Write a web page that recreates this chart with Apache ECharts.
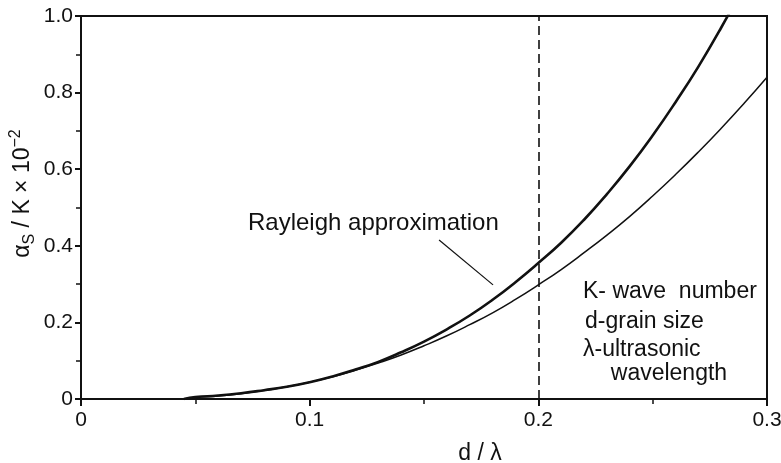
<!DOCTYPE html>
<html>
<head>
<meta charset="utf-8">
<script src="https://cdn.jsdelivr.net/npm/echarts@6/dist/echarts.min.js"></script>
<style>
html,body{margin:0;padding:0;background:#fff;}
#chart{width:781px;height:463px;}
</style>
</head>
<body>
<div id="chart"></div>
<script>
// d/lambda values and alpha_s/K x 10^-2 values
const rayleighX = [0.045, 0.05, 0.06, 0.07, 0.08, 0.09, 0.10, 0.11, 0.12, 0.13, 0.14, 0.15, 0.16, 0.17, 0.18, 0.19, 0.20, 0.21, 0.22, 0.23, 0.24, 0.25, 0.26, 0.27, 0.28, 0.29];
const rayleighY = [0.0, 0.005, 0.009, 0.015, 0.023, 0.032, 0.044, 0.059, 0.077, 0.097, 0.122, 0.150, 0.182, 0.218, 0.259, 0.305, 0.355, 0.408, 0.468, 0.535, 0.608, 0.688, 0.775, 0.868, 0.97, 1.08];
const exactX = [0.045, 0.05, 0.06, 0.07, 0.08, 0.09, 0.10, 0.11, 0.12, 0.13, 0.14, 0.15, 0.16, 0.17, 0.18, 0.19, 0.20, 0.21, 0.22, 0.23, 0.24, 0.25, 0.26, 0.27, 0.28, 0.29, 0.30];
const exactY = [0.0, 0.004, 0.008, 0.014, 0.022, 0.032, 0.044, 0.058, 0.075, 0.094, 0.115, 0.139, 0.165, 0.194, 0.225, 0.26, 0.298, 0.338, 0.382, 0.428, 0.477, 0.530, 0.586, 0.645, 0.707, 0.772, 0.84];
const xTicks = [0, 0.1, 0.2, 0.3];
const yTicks = [0, 0.2, 0.4, 0.6, 0.8, 1.0];
const dashedAt = 0.2;
const leader = [[0.1566, 0.415], [0.1802, 0.298]];
const labelRayleigh = 'Rayleigh approximation';
const legendLines = ['K- wave  number', 'd-grain size', 'λ-ultrasonic', '  wavelength'];

const FONT = '"Liberation Sans", Arial, sans-serif';
const pairs = (xs, ys) => xs.map((x, i) => [x, ys[i]]);

const chart = echarts.init(document.getElementById('chart'), null, {renderer: 'canvas'});
const option = {
  backgroundColor: '#fff',
  animation: false,
  grid: {left: 81, right: 14, top: 16, bottom: 64, containLabel: false, outerBoundsMode: 'none',
    show: true, borderColor: '#111', borderWidth: 2, backgroundColor: 'transparent'},
  xAxis: {
    type: 'value', min: xTicks[0], max: xTicks[xTicks.length - 1], interval: 0.1,
    axisLine: {lineStyle: {color: '#111', width: 2}},
    axisTick: {length: 7, lineStyle: {color: '#111', width: 2}},
    minorTick: {show: true, splitNumber: 2, length: 5, lineStyle: {color: '#111', width: 1.5}},
    splitLine: {show: false},
    axisLabel: {color: '#111', fontSize: 21, fontFamily: FONT, margin: 11,
      formatter: v => (Math.abs(v) < 1e-9 ? '0' : v.toFixed(1))},
    name: 'd / λ', nameLocation: 'middle', nameGap: 43,
    nameTextStyle: {color: '#111', fontSize: 23, fontFamily: FONT, padding: [0, 0, 0, 112]}
  },
  yAxis: {
    type: 'value', min: yTicks[0], max: yTicks[yTicks.length - 1], interval: 0.2,
    axisLine: {show: true, lineStyle: {color: '#111', width: 2}},
    axisTick: {show: true, length: 6, lineStyle: {color: '#111', width: 2}},
    minorTick: {show: true, splitNumber: 2, length: 5, lineStyle: {color: '#111', width: 1.5}},
    splitLine: {show: false},
    axisLabel: {color: '#111', fontSize: 21, fontFamily: FONT, margin: 8,
      formatter: v => (Math.abs(v) < 1e-9 ? '0' : v.toFixed(1))},
    name: '{a|α}{s|S}{a| / K × 10}{p|−2}', nameLocation: 'middle', nameGap: 43, nameRotate: 90,
    nameMoveOverlap: false,
    nameTextStyle: {
      color: '#111', fontFamily: FONT, padding: [0, 0, 0, 28],
      rich: {
        a: {fontSize: 23, fontFamily: FONT, color: '#111', lineHeight: 30, verticalAlign: 'middle'},
        s: {fontSize: 16, fontFamily: FONT, color: '#111', lineHeight: 30, verticalAlign: 'bottom'},
        p: {fontSize: 16, fontFamily: FONT, color: '#111', lineHeight: 30, verticalAlign: 'top'}
      }
    }
  },
  series: [
    {
      name: 'Rayleigh approximation', type: 'line', smooth: true, showSymbol: false, clip: true,
      data: pairs(rayleighX, rayleighY),
      lineStyle: {color: '#111', width: 2.6},
      markLine: {
        silent: true, symbol: ['none', 'none'], label: {show: false},
        data: [
          [{coord: [dashedAt, 0], lineStyle: {type: [9, 5], width: 1.6, color: '#111'}}, {coord: [dashedAt, 1]}],
          [{coord: leader[0], lineStyle: {type: 'solid', width: 1.2, color: '#111'}}, {coord: leader[1]}]
        ]
      }
    },
    {
      name: 'exact', type: 'line', smooth: true, showSymbol: false, clip: true,
      data: pairs(exactX, exactY),
      lineStyle: {color: '#111', width: 1.5}
    }
  ],
  graphic: [
    {type: 'text', left: 248, top: 211, style: {text: labelRayleigh, fill: '#111', font: '24px ' + FONT}},
    {type: 'text', left: 583, top: 280, style: {text: legendLines[0], fill: '#111', font: '23px ' + FONT}},
    {type: 'text', left: 585, top: 310, style: {text: legendLines[1], fill: '#111', font: '23px ' + FONT}},
    {type: 'text', left: 583, top: 338, style: {text: legendLines[2], fill: '#111', font: '23px ' + FONT}},
    {type: 'text', left: 598, top: 362, style: {text: legendLines[3], fill: '#111', font: '23px ' + FONT}}
  ]
};
chart.setOption(option);
</script>
</body>
</html>
